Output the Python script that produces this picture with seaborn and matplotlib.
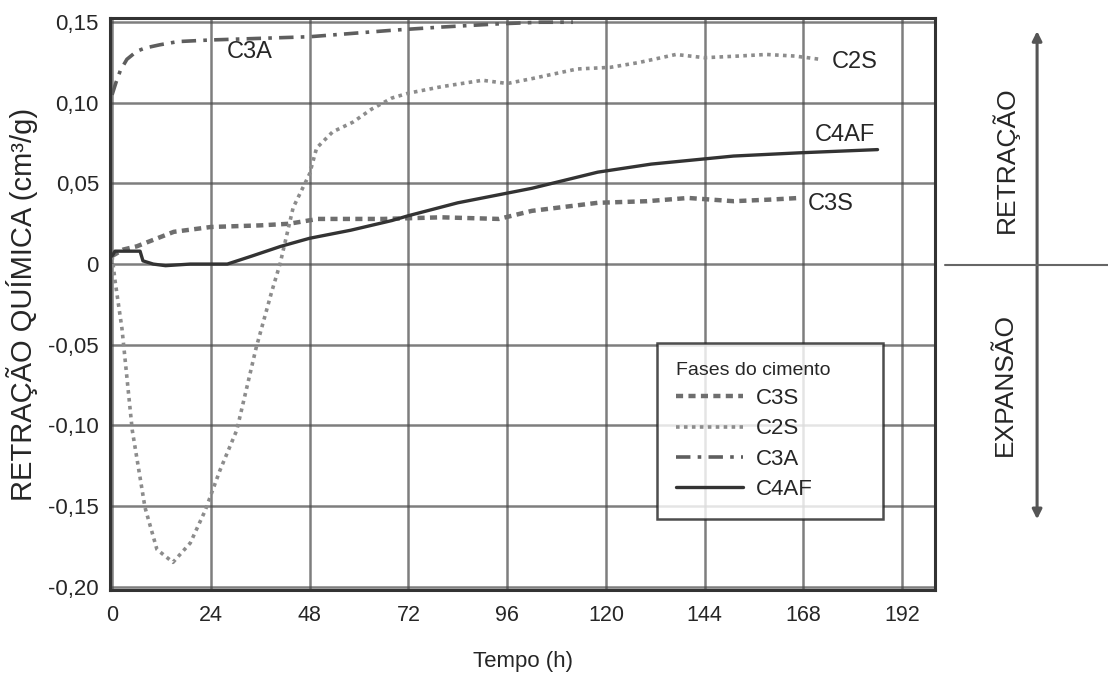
import numpy as np
import pandas as pd
import matplotlib
matplotlib.use("Agg")
import matplotlib.pyplot as plt
import seaborn as sns
from matplotlib.lines import Line2D

# values
t_c3s = [0, 2.7, 6, 9, 15, 24, 36, 43, 50, 66, 80, 94, 102, 118, 130, 140, 151, 160, 167]
c3s = [0.005, 0.009, 0.011, 0.014, 0.020, 0.023, 0.024, 0.025, 0.028, 0.028, 0.029,
       0.028, 0.033, 0.038, 0.039, 0.041, 0.039, 0.040, 0.041]

t_c2s = [0, 0.7, 2.4, 4.9, 8, 10.9, 14.8, 19, 22.6, 26.2, 30.3, 35, 38.8, 40.8, 44, 48,
         49.7, 53.6, 58.5, 63, 68, 72, 80, 90, 96, 102, 113, 121, 128, 137, 144, 152,
         159, 166, 172]
c2s = [0.005, -0.010, -0.040, -0.103, -0.151, -0.177, -0.185, -0.173, -0.153, -0.128,
       -0.103, -0.052, -0.017, 0.0, 0.035, 0.056, 0.072, 0.082, 0.088, 0.096, 0.103,
       0.106, 0.110, 0.114, 0.112, 0.115, 0.121, 0.122, 0.125, 0.130, 0.128, 0.129,
       0.130, 0.129, 0.127]

t_c3a = [0, 1, 2, 3.6, 6, 8, 11.6, 16, 24, 36, 48, 58, 68, 80, 94, 104, 112]
c3a = [0.105, 0.113, 0.120, 0.127, 0.132, 0.134, 0.136, 0.138, 0.139, 0.140, 0.141,
       0.143, 0.145, 0.147, 0.149, 0.150, 0.150]

t_c4af = [0, 0.7, 6.8, 7.5, 10, 13, 19, 28, 34, 41, 48, 58, 68, 72, 84, 96, 102, 118,
          131, 151, 167, 186]
c4af = [0.005, 0.008, 0.008, 0.002, 0.000, -0.001, 0.000, 0.000, 0.005, 0.011, 0.016,
        0.021, 0.027, 0.030, 0.038, 0.044, 0.047, 0.057, 0.062, 0.067, 0.069, 0.071]

x_ticks = [0, 24, 48, 72, 96, 120, 144, 168, 192]
y_ticks = [-0.20, -0.15, -0.10, -0.05, 0, 0.05, 0.10, 0.15]
y_ticklabels = ["-0,20", "-0,15", "-0,10", "-0,05", "0", "0,05", "0,10", "0,15"]

sns.set_theme(style="white")
plt.rcParams["font.family"] = ["Liberation Sans", "DejaVu Sans"]

fig = plt.figure(figsize=(11.08, 6.74), dpi=100)
ax = fig.add_axes([0.0993, 0.125, 0.7447, 0.848])

series = [
    ("C3S", t_c3s, c3s, dict(color="#6e6e6e", lw=3.2, linestyle=(0, (1.6, 1.2)))),
    ("C2S", t_c2s, c2s, dict(color="#8c8c8c", lw=2.6, linestyle=(0, (1, 1.2)))),
    ("C3A", t_c3a, c3a, dict(color="#5e5e5e", lw=2.6, linestyle=(0, (4, 2, 1, 2)))),
    ("C4AF", t_c4af, c4af, dict(color="#333333", lw=2.4, linestyle="-")),
]

for name, t, v, st in series:
    sns.lineplot(x=t, y=v, ax=ax, sort=False, **st)

ax.set_xlim(-0.5, 200)
ax.set_ylim(-0.202, 0.1525)
ax.set_xticks(x_ticks)
ax.set_yticks(y_ticks)
ax.set_yticklabels(y_ticklabels)
ax.tick_params(axis="y", labelsize=16, length=0, pad=8)
ax.tick_params(axis="x", labelsize=15.5, length=0, pad=11)
ax.grid(True, color="#4d4d4d", lw=1.8, alpha=0.72)
ax.set_axisbelow(True)
for s in ax.spines.values():
    s.set_color("#333333")
    s.set_linewidth(2.2)

ax.set_xlabel("Tempo (h)", fontsize=16, labelpad=18)
ax.set_ylabel("RETRAÇÃO QUÍMICA (cm³/g)", fontsize=21, labelpad=7)

# curve labels
ax.text(33.5, 0.1316, "C3A", fontsize=17, ha="center", va="center")
ax.text(180.5, 0.1255, "C2S", fontsize=17, ha="center", va="center")
ax.text(178, 0.080, "C4AF", fontsize=17, ha="center", va="center")
ax.text(174.5, 0.037, "C3S", fontsize=17, ha="center", va="center")

handles = [Line2D([], [], **st) for _, _, _, st in series]
labels = [s[0] for s in series]
leg = ax.legend(handles, labels, title="Fases do cimento", loc="upper left",
                bbox_to_anchor=(0.663, 0.128, 0.274, 0.304), mode="expand",
                borderaxespad=0, fontsize=16, title_fontsize=14,
                frameon=True, fancybox=False, handlelength=3.0, handletextpad=0.6,
                labelspacing=0.42, borderpad=0.85, alignment="left")
leg.get_frame().set_edgecolor("#222222")
leg.get_frame().set_linewidth(1.8)

# retracao / expansao indicator on the right
fig.add_artist(Line2D([0.853, 1.0], [0.607, 0.607], color="#666666", lw=1.5,
                      transform=fig.transFigure))
ax.annotate("", xy=(0.936, 0.958), xytext=(0.936, 0.2255), xycoords="figure fraction",
            textcoords="figure fraction",
            arrowprops=dict(arrowstyle="<|-|>", color="#555555", lw=2.2,
                            mutation_scale=14))
fig.text(0.907, 0.763, "RETRAÇÃO", rotation=90, fontsize=19, ha="center", va="center")
fig.text(0.907, 0.429, "EXPANSÃO", rotation=90, fontsize=19, ha="center", va="center")

fig.savefig("out.png", dpi=100)
